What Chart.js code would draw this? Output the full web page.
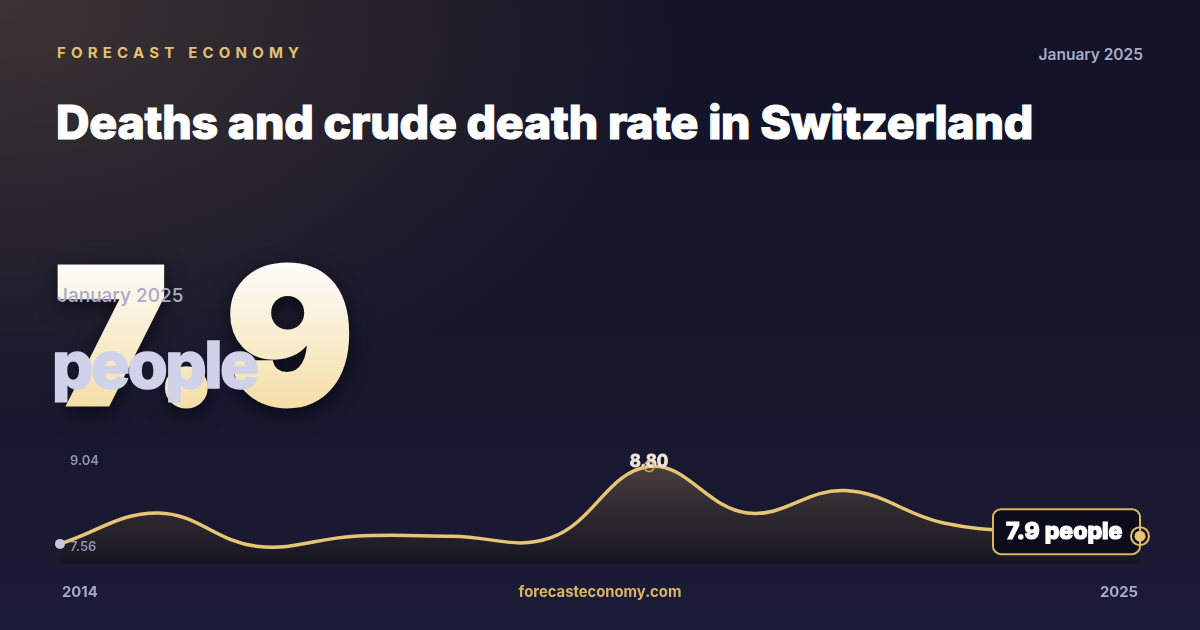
<!DOCTYPE html>
<html>
<head>
<meta charset="utf-8">
<script src="https://cdn.jsdelivr.net/npm/chart.js@4"></script>
<style>
  html, body { margin: 0; padding: 0; }
  body {
    width: 1200px; height: 630px; overflow: hidden; position: relative;
    font-family: Inter, "Noto Sans", sans-serif;
    background:
      radial-gradient(ellipse 700px 420px at 0px 0px, rgba(120, 96, 66, 0.42), rgba(120, 96, 66, 0) 100%),
      linear-gradient(180deg, #121327 0%, #16172d 60%, #1b1c35 100%);
  }
  .abs { position: absolute; white-space: nowrap; }
  #brand { left: 57px; top: 43px; font-size: 15px; font-weight: 700; letter-spacing: 5.2px; color: #e3c072; }
  #date { right: 57px; top: 45px; font-size: 15.5px; font-weight: 600; color: #a9abc8; }
  #title { left: 56px; top: 94px; font-size: 46.4px; font-weight: 800; color: #ffffff; letter-spacing: -0.2px; -webkit-text-stroke: 1.2px #ffffff; }
  #big {
    left: 55px; top: 233px; font-size: 188px; font-weight: 900; letter-spacing: 8px; line-height: 1.1;
    background: linear-gradient(180deg, #fdfcf9 15%, #f3dca0 90%);
    -webkit-background-clip: text; background-clip: text; color: transparent;
    -webkit-text-stroke: 5px transparent;
    filter: drop-shadow(0 6px 10px rgba(0,0,0,0.55));
  }
  #sub { left: 57px; top: 284px; font-size: 19px; font-weight: 500; color: #a9abc8; }
  #unit { left: 52px; top: 325px; font-size: 65px; font-weight: 800; color: #cfd2e8; letter-spacing: -2.5px; -webkit-text-stroke: 1.5px #cfd2e8; }
  #chart { position: absolute; left: 0; top: 0; }
  .foot { top: 583px; font-size: 14.8px; font-weight: 700; }
  #y0 { left: 62px; color: #a8abc8; }
  #y1 { right: 62px; color: #a8abc8; }
  #site { left: 0; width: 1200px; text-align: center; color: #d9b565; }
</style>
</head>
<body>
<div class="abs" id="brand">FORECAST ECONOMY</div>
<div class="abs" id="date">January 2025</div>
<div class="abs" id="title">Deaths and crude death rate in Switzerland</div>
<div class="abs" id="big">7.9</div>
<div class="abs" id="sub">January 2025</div>
<div class="abs" id="unit">people</div>
<canvas id="chart" width="1200" height="630"></canvas>
<div class="abs foot" id="y0">2014</div>
<div class="abs foot" id="site">forecasteconomy.com</div>
<div class="abs foot" id="y1">2025</div>
<script>
const years = ['2014','2015','2016','2017','2018','2019','2020','2021','2022','2023','2024','2025'];
const rates = [7.80, 8.20, 7.77, 7.90, 7.90, 7.88, 8.80, 8.20, 8.49, 8.07, 7.95, 7.90];
const tickLabels = ['9.04', '7.56'];
const peakLabel = '8.80';
const lastLabel = '7.9 people';

const ctx = document.getElementById('chart');

const labelsPlugin = {
  id: 'labels',
  afterDatasetsDraw(chart) {
    const c = chart.ctx;
    const area = chart.chartArea;
    const pts = chart.getDatasetMeta(0).data;
    c.save();
    // min / max tick labels
    c.font = '600 13px Inter';
    c.fillStyle = '#8f92b0';
    c.textAlign = 'left';
    c.textBaseline = 'middle';
    c.fillText(tickLabels[0], area.left + 10, area.top + 13);
    c.fillText(tickLabels[1], area.left + 10, area.bottom - 17);

    // peak label
    let pi = rates.indexOf(Math.max(...rates));
    let pp = pts[pi];
    c.font = '700 17px Inter';
    c.fillStyle = '#ece6da';
    c.strokeStyle = '#ece6da';
    c.lineWidth = 0.8;
    c.textAlign = 'center';
    c.fillText(peakLabel, pp.x, pp.y - 5);
    c.strokeText(peakLabel, pp.x, pp.y - 5);
    c.beginPath();
    c.arc(pp.x, pp.y, 5, 0, Math.PI * 2);
    c.strokeStyle = 'rgba(214,176,96,0.9)';
    c.lineWidth = 1.5;
    c.stroke();

    // first point
    let fp = pts[0];
    c.beginPath();
    c.arc(fp.x, fp.y, 5, 0, Math.PI * 2);
    c.fillStyle = '#c5c8e0';
    c.fill();

    // last value box
    let lp = pts[pts.length - 1];
    let w = 147, h = 45;
    let bx = lp.x - w, by = lp.y - 27;
    c.beginPath();
    c.roundRect(bx, by, w, h, 8);
    c.fillStyle = '#0b0d1c';
    c.fill();
    c.strokeStyle = '#d8b665';
    c.lineWidth = 2;
    c.stroke();
    c.font = '800 23px Inter';
    c.fillStyle = '#ffffff';
    c.strokeStyle = '#ffffff';
    c.lineWidth = 1.2;
    c.textAlign = 'left';
    c.fillText(lastLabel, bx + 13, by + h / 2);
    c.strokeText(lastLabel, bx + 13, by + h / 2);

    c.beginPath();
    c.arc(lp.x, lp.y, 9, 0, Math.PI * 2);
    c.strokeStyle = '#e0bd6c';
    c.lineWidth = 2;
    c.stroke();
    c.beginPath();
    c.arc(lp.x, lp.y, 5.5, 0, Math.PI * 2);
    c.fillStyle = '#e8c574';
    c.fill();
    c.restore();
  }
};

new Chart(ctx, {
  type: 'line',
  data: {
    labels: years,
    datasets: [{
      data: rates,
      borderColor: '#e8c574',
      borderWidth: 3.5,
      tension: 0.4,
      pointRadius: 0,
      fill: 'start',
      backgroundColor: (context) => {
        const area = context.chart.chartArea;
        if (!area) return 'rgba(0,0,0,0)';
        const g = context.chart.ctx.createLinearGradient(0, area.top, 0, area.bottom);
        g.addColorStop(0, 'rgba(110, 92, 72, 0.75)');
        g.addColorStop(0.5, 'rgba(60, 52, 50, 0.7)');
        g.addColorStop(1, 'rgba(20, 20, 30, 0.9)');
        return g;
      }
    }]
  },
  options: {
    responsive: false,
    animation: false,
    clip: false,
    layout: { padding: { left: 60, right: 60, top: 448, bottom: 66 } },
    plugins: { legend: { display: false }, tooltip: { enabled: false } },
    scales: {
      x: { display: false },
      y: { display: false, min: 7.54, max: 9.04 }
    }
  },
  plugins: [labelsPlugin]
});
</script>
</body>
</html>
